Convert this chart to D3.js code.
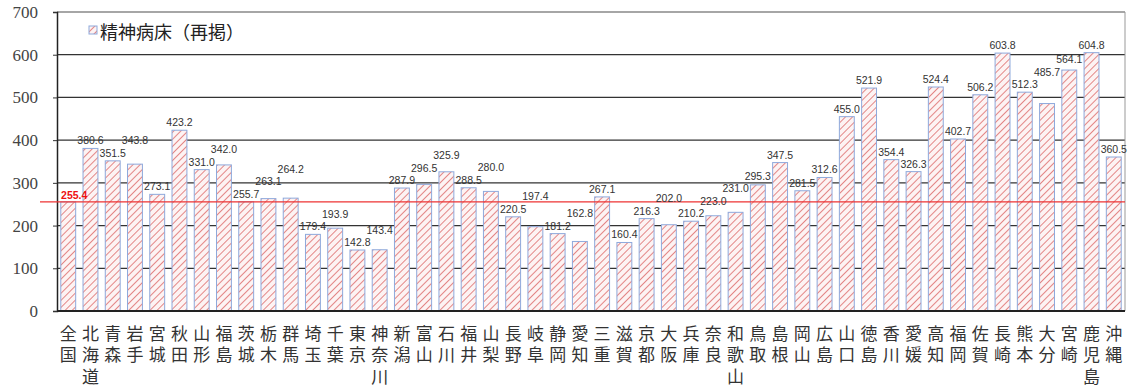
<!DOCTYPE html>
<html><head><meta charset="utf-8">
<script src="https://cdn.jsdelivr.net/npm/d3@7"></script>
<style>body{margin:0;background:#fff}svg{display:block}</style>
</head><body><svg id="c" width="1129" height="392"></svg>
<script>
const categories = ["全国","北海道","青森","岩手","宮城","秋田","山形","福島","茨城","栃木","群馬","埼玉","千葉","東京","神奈川","新潟","富山","石川","福井","山梨","長野","岐阜","静岡","愛知","三重","滋賀","京都","大阪","兵庫","奈良","和歌山","鳥取","島根","岡山","広島","山口","徳島","香川","愛媛","高知","福岡","佐賀","長崎","熊本","大分","宮崎","鹿児島","沖縄"];
const values = [255.4,380.6,351.5,343.8,273.1,423.2,331.0,342.0,255.7,263.1,264.2,179.4,193.9,142.8,143.4,287.9,296.5,325.9,288.5,280.0,220.5,197.4,181.2,162.8,267.1,160.4,216.3,202.0,210.2,223.0,231.0,295.3,347.5,281.5,312.6,455.0,521.9,354.4,326.3,524.4,402.7,506.2,603.8,512.3,485.7,564.1,604.8,360.5];
const yTicks = [0,100,200,300,400,500,600,700];
const nationalAvg = 255.4;
const seriesName = "精神病床（再掲）";

const svg = d3.select("#c");
const L = 57, R = 1125, T = 12, B = 311;
const x = d3.scaleBand().domain(categories).range([L, R]).paddingInner(0.33).paddingOuter(0.17);
const y = d3.scaleLinear().domain([0, 700]).range([B, T]);

const defs = svg.append("defs");
const pat = defs.append("pattern").attr("id","hatch").attr("patternUnits","userSpaceOnUse")
  .attr("width",5).attr("height",5).attr("patternTransform","rotate(45)");
pat.append("rect").attr("width",5).attr("height",5).attr("fill","#fdf3f3");
pat.append("line").attr("x1",0).attr("y1",0).attr("x2",0).attr("y2",5).attr("stroke","#e07a7a").attr("stroke-width",1.8);

// gridlines
svg.append("g").selectAll("line").data(yTicks.filter(d=>d>0)).join("line")
  .attr("x1", L).attr("x2", R).attr("y1", d=>y(d)).attr("y2", d=>y(d))
  .attr("stroke", d=> d===700 ? "#888" : "#333").attr("stroke-width", 1.3);
svg.append("line").attr("x1",R).attr("x2",R).attr("y1",T).attr("y2",B).attr("stroke","#999");

// bars
svg.append("g").selectAll("rect").data(values).join("rect")
  .attr("x",(d,i)=>x(categories[i])).attr("width",x.bandwidth())
  .attr("y",d=>y(d)).attr("height",d=>B-y(d))
  .attr("fill","url(#hatch)").attr("stroke","#8ea9dc").attr("stroke-width",1);

// y axis
const yAxis = d3.axisLeft(y).tickValues(yTicks).tickSize(4).tickFormat(d3.format("d"));
const ga = svg.append("g").attr("transform",`translate(${L},0)`).call(yAxis);
ga.select(".domain").attr("stroke","#222").attr("stroke-width",1.5);
ga.selectAll(".tick line").attr("stroke","#333");
ga.selectAll(".tick text").attr("x",-19).attr("font-family","Liberation Serif, serif").attr("font-size",17).attr("fill","#444");
svg.append("line").attr("x1",L).attr("x2",R).attr("y1",B).attr("y2",B).attr("stroke","#222").attr("stroke-width",2);

// national average line
svg.append("line").attr("x1",40).attr("x2",R).attr("y1",y(nationalAvg)).attr("y2",y(nationalAvg))
  .attr("stroke","#ee3333").attr("stroke-width",1.3);

// value labels
const labels = svg.append("g").selectAll("text").data(values).join("text")
  .attr("x",(d,i)=>x(categories[i])+x.bandwidth()/2 + (i===0?6:0))
  .attr("y",(d,i)=> i===0 ? y(d)-3 : y(d)-4)
  .attr("text-anchor","middle")
  .attr("font-family","Liberation Sans, Arial, sans-serif")
  .attr("font-size",10.5)
  .attr("font-weight",(d,i)=>i===0?"bold":"normal")
  .attr("fill",(d,i)=>i===0?"#ee1111":"#333")
  .text(d=>d.toFixed(1));

// simple collision pass: lift a label above its left neighbour if they overlap
const nodes = labels.nodes();
for (let i = 1; i < nodes.length; i++) {
  const a = nodes[i-1].getBBox(), b = nodes[i].getBBox();
  const ox = a.x + a.width + 1 > b.x && b.x + b.width + 1 > a.x;
  const oy = a.y < b.y + b.height && b.y < a.y + a.height;
  if (ox && oy) {
    const shift = (b.y + b.height) - a.y + 0.5;
    nodes[i].setAttribute("y", +nodes[i].getAttribute("y") - shift);
  }
}

// x labels (vertical writing)
svg.append("g").selectAll("text").data(categories).join("text")
  .attr("x",c=>x(c)+x.bandwidth()/2).attr("y",325)
  .style("writing-mode","vertical-rl").style("letter-spacing","4.5px")
  .attr("font-family","Noto Sans CJK JP, sans-serif").attr("font-size",17).attr("fill","#333")
  .text(c=>c);

// legend
svg.append("rect").attr("x",89).attr("y",26).attr("width",8).attr("height",8)
  .attr("fill","url(#hatch)").attr("stroke","#8ea9dc");
svg.append("text").attr("x",100).attr("y",39).attr("font-family","Noto Sans CJK JP, sans-serif")
  .attr("font-size",18).attr("fill","#222").text(seriesName);
</script></body></html>
